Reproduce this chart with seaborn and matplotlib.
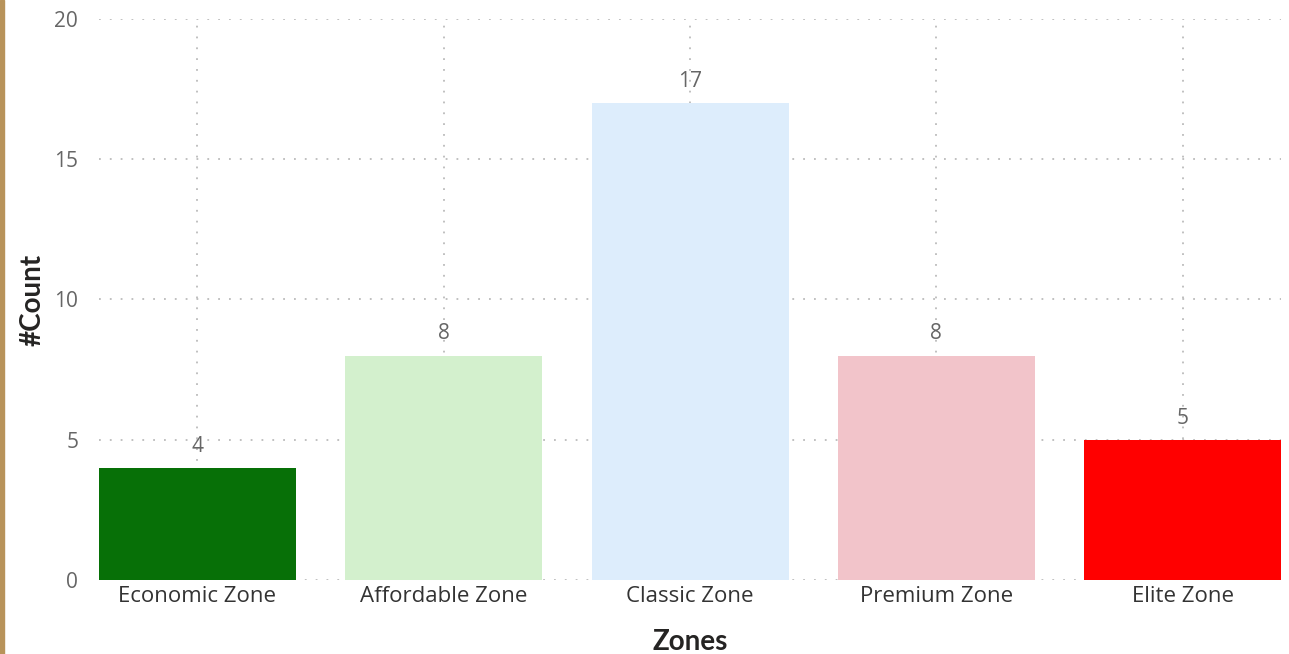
import matplotlib
matplotlib.use("Agg")
import matplotlib.pyplot as plt
import seaborn as sns
import pandas as pd

# chart values
zones = ["Economic Zone", "Affordable Zone", "Classic Zone", "Premium Zone", "Elite Zone"]
counts = [4, 8, 17, 8, 5]
bar_colors = ["#077007", "#D3F0CD", "#DDEDFC", "#F2C4CA", "#FF0000"]
y_ticks = [0, 5, 10, 15, 20]


def main():
    sns.set_style("white")
    plt.rcParams["font.family"] = ["Open Sans", "DejaVu Sans"]

    df = pd.DataFrame({"zone": zones, "count": counts})

    fig = plt.figure(figsize=(12.89, 6.54), dpi=100)
    ax = fig.add_axes([0.0768, 0.1131, 0.9170, 0.8579])

    sns.barplot(data=df, x="zone", y="count", hue="zone", palette=bar_colors,
                width=0.8, legend=False, ax=ax, saturation=1, linewidth=0)

    # value labels above each bar
    for i, v in enumerate(counts):
        ax.annotate(str(v), (i, v), xytext=(0, 8), textcoords="offset points",
                    ha="center", va="bottom", fontsize=15, color="#666666")

    ax.set_xlim(-0.4, 4.4)
    ax.set_ylim(0, 20)
    ax.set_yticks(y_ticks)
    ax.set_axisbelow(True)
    ax.grid(True, axis="both", linestyle=(0, (1, 5)), color="#BBBBBB", linewidth=1.3)
    sns.despine(ax=ax, left=True, bottom=True)

    ax.tick_params(axis="y", labelsize=15, labelcolor="#666666", length=0, pad=15)
    ax.tick_params(axis="x", labelsize=16, labelcolor="#333333", length=0, pad=4)
    ax.set_xlabel("Zones", fontsize=20, fontweight="bold", color="#252423",
                  family=["Lato", "DejaVu Sans"], labelpad=16)
    ax.set_ylabel("#Count", fontsize=20, fontweight="bold", color="#252423",
                  family=["Lato", "DejaVu Sans"], labelpad=6)

    # brown strip at the left edge
    fig.patches.append(plt.Rectangle((0, 0), 4 / 1289, 1, transform=fig.transFigure,
                                     color="#B8935A", zorder=5))

    fig.savefig("out.png", dpi=100)
    plt.close(fig)


if __name__ == "__main__":
    main()
